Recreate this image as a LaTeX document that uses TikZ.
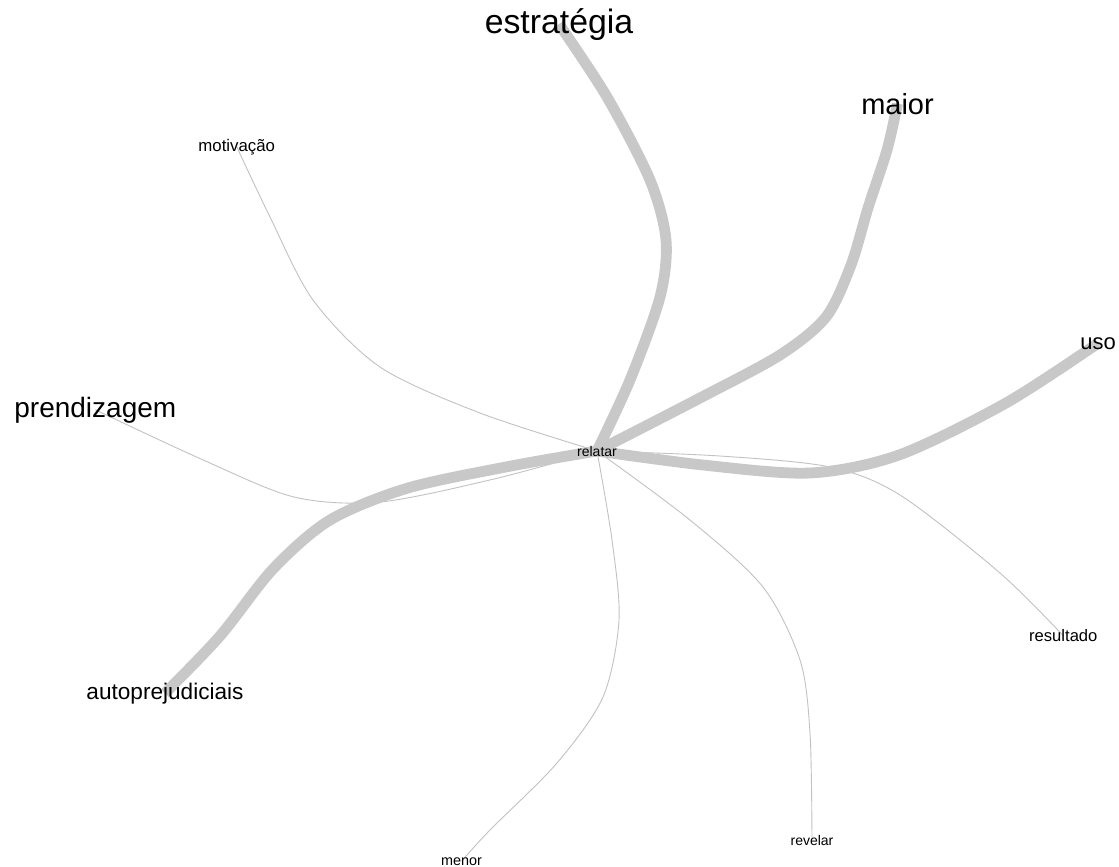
\documentclass[tikz,border=0pt]{standalone}
\usepackage{fontspec}
\setmainfont{Liberation Sans}
\pgfdeclarelayer{bg}
\pgfsetlayers{bg,main}
\definecolor{edgegray}{HTML}{C8C8C8}
\definecolor{thingray}{HTML}{C2C2C2}
\begin{document}
\begin{tikzpicture}[x=0.5pt,y=-0.5pt,
  lbl/.style={inner sep=0pt,anchor=base,text=black},
  thickedge/.style={draw=edgegray,line width=5.4pt},
  thinedge/.style={draw=thingray,line width=0.45pt}]
\useasboundingbox (0,0) rectangle (1119,867);
% labels
\node[lbl,font={\fontsize{16.9}{18}\selectfont}] (estrategia) at (559,33) {estratégia};
\node[lbl,font={\fontsize{14.5}{16}\selectfont}] (maior) at (897.5,114) {maior};
\node[lbl,font={\fontsize{11}{12}\selectfont}] (uso) at (1098,349) {uso};
\node[lbl,anchor=base west,font={\fontsize{14}{15}\selectfont}] (prendizagem) at (14,417) {prendizagem};
\node[lbl,font={\fontsize{11.3}{12}\selectfont}] (autoprejudiciais) at (165,699) {autoprejudiciais};
\node[lbl,font={\fontsize{7}{8}\selectfont}] (relatar) at (597,456) {relatar};
\node[lbl,font={\fontsize{8.4}{9}\selectfont}] (motivacao) at (236.7,151) {motivação};
\node[lbl,font={\fontsize{8.3}{9}\selectfont}] (resultado) at (1063.3,641.7) {resultado};
\node[lbl,font={\fontsize{7}{8}\selectfont}] (revelar) at (812,845) {revelar};
\node[lbl,font={\fontsize{7.2}{8}\selectfont}] (menor) at (461.5,865) {menor};
\begin{pgfonlayer}{bg}
\fill[white] (0,0) rectangle (1119,867);
% thin edges
\draw[thinedge] plot[smooth] coordinates {(relatar.center) (480,413) (380,367) (313,300) (270,217) (motivacao.center)};
\draw[thinedge] plot[smooth] coordinates {(relatar.center) (494,479) (380,502) (294,497) (201,459) (prendizagem.center)};
\draw[thinedge] plot[smooth] coordinates {(relatar.center) (612,540) (619,620) (603,697) (557,763) (490,830) (menor.center)};
\draw[thinedge] plot[smooth] coordinates {(relatar.center) (690,520) (763,587) (800,660) (810,733) (revelar.center)};
\draw[thinedge] plot[smooth] coordinates {(relatar.center) (720,456) (830,467) (900,495) (1000,573) (resultado.center)};
% thick edges
\draw[thickedge] plot[smooth] coordinates {(relatar.center) (630,380) (660,297) (666,240) (650,180) (607,97) (estrategia.center)};
\draw[thickedge] plot[smooth] coordinates {(relatar.center) (700,398) (780,355) (826,317) (851,265) (868,208) (887,150) (maior.center)};
\draw[thickedge] plot[smooth] coordinates {(relatar.center) (703,465) (810,473) (899,455) (1006,403) (uso.center)};
\draw[thickedge] plot[smooth] coordinates {(relatar.center) (511,466) (408,488) (330,520) (273,569) (220,636) (autoprejudiciais.center)};
\end{pgfonlayer}
\end{tikzpicture}
\end{document}
